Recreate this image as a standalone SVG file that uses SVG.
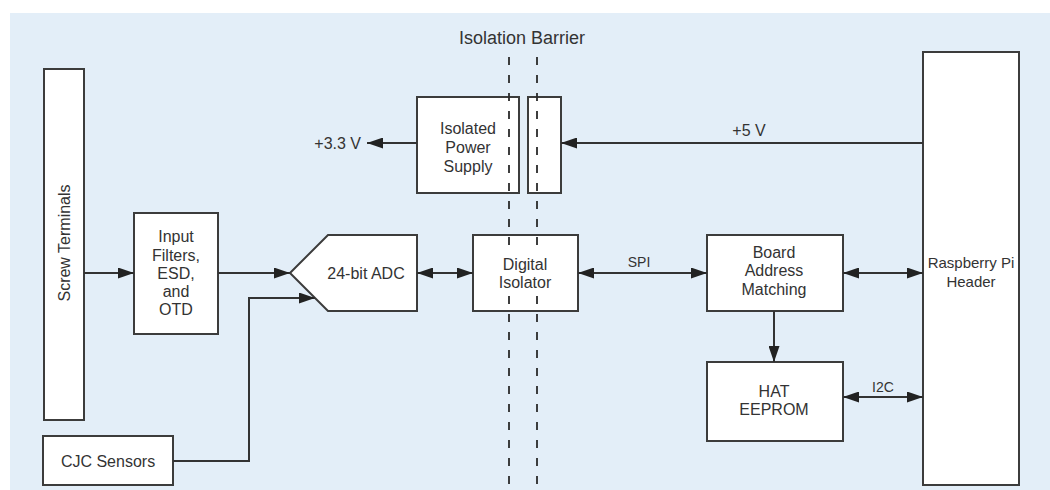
<svg xmlns="http://www.w3.org/2000/svg" width="1050" height="490" viewBox="0 0 1050 490">
<style>
.box{fill:#ffffff;stroke:#3c3c3c;stroke-width:2}
.ln{fill:none;stroke:#333333;stroke-width:2}
.bar{fill:none;stroke:#2a2a2a;stroke-width:1.8;stroke-dasharray:8 10}
text{font-family:"Liberation Sans",Arial,sans-serif;font-size:16px;fill:#333333;text-anchor:middle;dominant-baseline:central}
.sm{font-size:14px}
</style>
<defs>
<marker id="ah" viewBox="0 0 16 11" refX="16" refY="5.5" markerWidth="16" markerHeight="11" markerUnits="userSpaceOnUse" orient="auto-start-reverse">
<path d="M0,0 L16,5.5 L0,11 z" fill="#222222"/>
</marker>
</defs>
<rect x="10" y="13" width="1040" height="477" fill="#e3eef8"/>
<text x="522" y="38" style="font-size:18px">Isolation Barrier</text>

<g id="screw-terminals">
<rect class="box" x="44" y="69" width="40" height="351"/>
<text transform="translate(64,243) rotate(-90)">Screw Terminals</text>
</g>
<g id="input-filters">
<rect class="box" x="134" y="213" width="84" height="121"/>
<text x="176" y="236">Input</text>
<text x="176" y="255">Filters,</text>
<text x="176" y="273">ESD,</text>
<text x="176" y="291">and</text>
<text x="176" y="309">OTD</text>
</g>
<g id="cjc-sensors">
<rect class="box" x="43" y="436" width="130" height="49"/>
<text x="108" y="461">CJC Sensors</text>
</g>
<g id="adc">
<polygon class="box" points="290,273 328,235 417,235 417,311 328,311"/>
<text x="366" y="273">24-bit ADC</text>
</g>
<g id="isolated-power-supply">
<rect class="box" x="417" y="97" width="102" height="96"/>
<text x="468" y="128">Isolated</text>
<text x="468" y="147">Power</text>
<text x="468" y="166">Supply</text>
</g>
<g id="power-transformer">
<rect class="box" x="528" y="97" width="33" height="96"/>
</g>
<g id="digital-isolator">
<rect class="box" x="473" y="235" width="105" height="76"/>
<text x="525" y="264">Digital</text>
<text x="525" y="282">Isolator</text>
</g>
<g id="board-address-matching">
<rect class="box" x="707" y="235" width="136" height="76"/>
<text x="774" y="252">Board</text>
<text x="774" y="270">Address</text>
<text x="774" y="289">Matching</text>
</g>
<g id="hat-eeprom">
<rect class="box" x="707" y="362" width="136" height="79"/>
<text x="774" y="391">HAT</text>
<text x="774" y="409">EEPROM</text>
</g>
<g id="raspberry-pi-header">
<rect class="box" x="923" y="52" width="96" height="433"/>
<text x="971" y="262" style="font-size:15px">Raspberry Pi</text>
<text x="971" y="281" style="font-size:15px">Header</text>
</g>

<g id="isolation-barrier">
<line class="bar" x1="509" y1="57" x2="509" y2="249"/>
<line class="bar" x1="537" y1="57" x2="537" y2="249"/>
<line class="bar" x1="509" y1="296" x2="509" y2="490"/>
<line class="bar" x1="537" y1="296" x2="537" y2="490"/>
</g>

<g id="connectors">
<line class="ln" x1="84" y1="273" x2="134" y2="273" marker-end="url(#ah)"/>
<line class="ln" x1="218" y1="273" x2="290" y2="273" marker-end="url(#ah)"/>
<polyline class="ln" points="173,461 249,461 249,298 315,298" marker-end="url(#ah)"/>
<line class="ln" x1="417" y1="273" x2="473" y2="273" marker-start="url(#ah)" marker-end="url(#ah)"/>
<line class="ln" x1="578" y1="273" x2="707" y2="273" marker-start="url(#ah)" marker-end="url(#ah)"/>
<line class="ln" x1="843" y1="273" x2="923" y2="273" marker-start="url(#ah)" marker-end="url(#ah)"/>
<line class="ln" x1="774" y1="311" x2="774" y2="362" marker-end="url(#ah)"/>
<line class="ln" x1="843" y1="397" x2="923" y2="397" marker-start="url(#ah)" marker-end="url(#ah)"/>
<line class="ln" x1="923" y1="143" x2="561" y2="143" marker-end="url(#ah)"/>
<line class="ln" x1="417" y1="143" x2="367" y2="143" marker-end="url(#ah)"/>
<text x="361" y="143" style="text-anchor:end">+3.3 V</text>
<text x="749" y="130">+5 V</text>
<text class="sm" x="639" y="262">SPI</text>
<text class="sm" x="883" y="387">I2C</text>
</g>
</svg>
